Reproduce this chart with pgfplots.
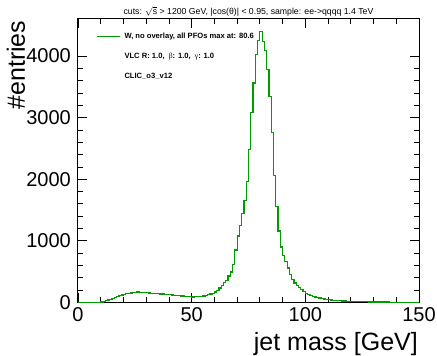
\documentclass[border=0pt]{standalone}
\usepackage{fontspec}
\setmainfont{Liberation Sans}
\newfontfamily\seriffont{Liberation Serif}
\usepackage{pgfplots}
\pgfplotsset{compat=1.18}
\definecolor{hgreen}{RGB}{0,155,0}
\pgfplotstableread{
x y
0 0
1 0
2 0
3 0
4 0
5 0
6 0
7 0
8 2
9 5
10 10
11 18
12 28
13 40
14 52
15 65
16 80
17 95
18 108
19 120
20 130
21 140
22 148
23 155
24 160
25 166
26 170
27 163
28 167
29 160
30 157
31 153
32 150
33 146
34 149
35 142
36 138
37 136
38 131
39 134
40 127
41 122
42 119
43 114
44 111
45 107
46 104
47 99
48 97
49 94
50 91
51 94
52 92
53 96
54 100
55 105
56 112
57 124
58 138
59 152
60 172
61 200
62 235
63 275
64 320
65 355
66 430
67 495
68 620
69 850
70 1080
71 1250
72 1450
73 1660
74 1960
75 2480
76 3080
77 3560
78 4030
79 4250
80 4400
81 4230
82 4090
83 3780
84 3340
85 2760
86 2060
87 1560
88 1160
89 900
90 760
91 660
92 560
93 455
94 375
95 315
96 275
97 240
98 205
99 178
100 152
101 132
102 116
103 102
104 90
105 80
106 72
107 65
108 58
109 52
110 46
111 42
112 38
113 34
114 31
115 28
116 25
117 23
118 21
119 19
120 17
121 16
122 15
123 14
124 13
125 12
126 11
127 11
128 10
129 9
130 9
131 8
132 8
133 8
134 7
135 7
136 7
137 6
138 6
139 6
140 6
141 5
142 5
143 5
144 5
145 5
146 4
147 4
148 4
149 4
150 4
}\histdata
\begin{document}
\begin{tikzpicture}
\useasboundingbox (-78pt,-53.5pt) rectangle (359pt,302.5pt);
\begin{axis}[
  name=ax,
  at={(0,0)}, anchor=south west,
  scale only axis, width=341pt, height=283.5pt,
  xmin=0, xmax=150, ymin=0, ymax=4600,
  xtick={0,50,100,150}, ytick={0,1000,2000,3000,4000},
  minor tick num=4,
  tick align=inside,
  major tick length=9pt, minor tick length=5pt,
  every tick/.style={black, line width=0.8pt},
  axis line style={line width=1pt},
  /pgf/number format/assume math mode=true,
  /pgf/number format/set thousands separator={},
  scaled y ticks=false,
  xticklabel style={font=\fontsize{20}{20}\selectfont, anchor=base, inner sep=0pt, yshift=-19pt},
  yticklabel style={font=\fontsize{20}{20}\selectfont, anchor=east, inner sep=0pt, xshift=-7pt},
  clip=false,
]
\addplot[const plot mark left, draw=hgreen, mark=none, line width=1.25pt] table[x=x,y=y] {\histdata};
\end{axis}
% axis labels
\node[anchor=base east, inner sep=0pt, font=\fontsize{25}{25}\selectfont] at (340pt,-48.5pt) {jet mass [GeV]};
\node[rotate=90, anchor=base east, inner sep=0pt, font=\fontsize{25}{25}\selectfont] at (-53pt,282pt) {\#entries};
% title
\node[anchor=base, inner sep=0pt, font=\fontsize{8.7}{9}\selectfont] at (170.5pt,288pt) {cuts: $\sqrt{\mbox{s}}$ > 1200 GeV, |cos(θ)| < 0.95, sample: ee->qqqq 1.4 TeV};
% legend
\draw[hgreen, line width=1pt] (19pt,265.8pt) -- (42pt,265.8pt);
\node[anchor=base west, inner sep=0pt, font=\fontsize{7.6}{8}\selectfont\bfseries] at (46.3pt,263.5pt) {W, no overlay, all PFOs max at: 80.6};
\node[anchor=base west, inner sep=0pt, font=\fontsize{7.6}{8}\selectfont\bfseries] at (46.3pt,244.2pt) {VLC R: 1.0,\ \ {\seriffont\mdseries β}: 1.0,\ \ {\seriffont\mdseries γ}: 1.0};
\node[anchor=base west, inner sep=0pt, font=\fontsize{7.6}{8}\selectfont\bfseries] at (46.3pt,224.2pt) {CLIC\_o3\_v12};
\end{tikzpicture}
\end{document}
